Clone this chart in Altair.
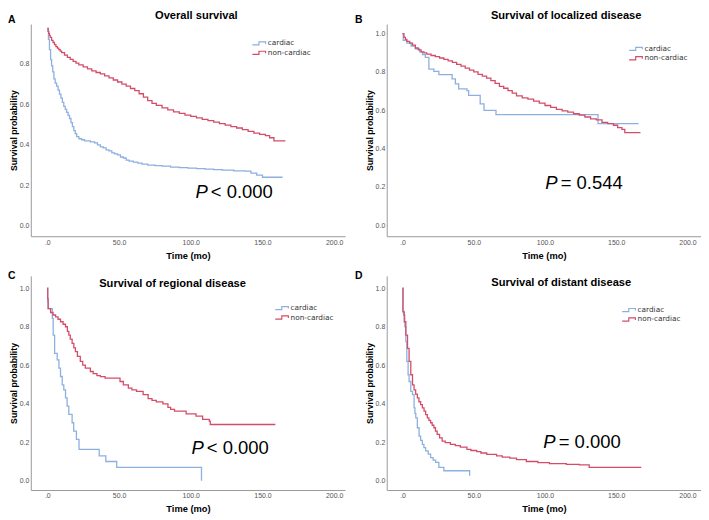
import altair as alt
import pandas as pd

BLUE = "#8cb0e0"
RED = "#d44d68"
FONT = "Liberation Sans"
GROUPS = ["cardiac", "non-cardiac"]

TITLES = ["Overall survival", "Survival of localized disease",
          "Survival of regional disease", "Survival of distant disease"]
LETTERS = ["A", "B", "C", "D"]
P_SYMBOL = "P"
P_REST = ["< 0.000", "= 0.544", "< 0.000", "= 0.000"]
X_TICKS = [0, 50, 100, 150, 200]
Y_TICKS_A = [0.0, 0.2, 0.4, 0.6, 0.8]
Y_TICKS = [0.0, 0.2, 0.4, 0.6, 0.8, 1.0]

# (time in months, survival probability) step points
A_CARDIAC = [(0, 0.975), (0.8, 0.92), (1.5, 0.87), (2.3, 0.82), (3.0, 0.79), (3.8, 0.76),
             (4.6, 0.725), (5.5, 0.705), (6.5, 0.69), (7.5, 0.67), (8.5, 0.65), (9.5, 0.63),
             (10.5, 0.61), (11.5, 0.59), (12.5, 0.575), (13.5, 0.56), (14.5, 0.545),
             (15.5, 0.53), (16.5, 0.51), (17.5, 0.49), (18.5, 0.47), (19.5, 0.455),
             (20.5, 0.44), (22, 0.43), (24, 0.425), (26, 0.42), (30, 0.415), (33, 0.41),
             (35, 0.40), (37, 0.39), (39, 0.385), (41, 0.375), (43, 0.37), (45, 0.36),
             (47, 0.355), (49, 0.35), (51, 0.34), (53, 0.335), (55, 0.325), (57, 0.32),
             (60, 0.315), (63, 0.31), (66, 0.305), (70, 0.30), (75, 0.297), (80, 0.295),
             (86, 0.29), (92, 0.288), (98, 0.285), (104, 0.283), (110, 0.28), (116, 0.278),
             (122, 0.275), (130, 0.272), (138, 0.27), (142, 0.26), (146, 0.25), (150, 0.24),
             (164, 0.24)]
A_NONCARDIAC = [(0, 0.975), (0.5, 0.96), (1, 0.95), (1.5, 0.94), (2, 0.93), (3, 0.915),
                (4, 0.905), (5, 0.895), (6, 0.885), (7, 0.877), (8, 0.87), (9, 0.862),
                (10, 0.855), (12, 0.843), (14, 0.832), (16, 0.822), (18, 0.812), (20, 0.803),
                (22, 0.795), (25, 0.785), (28, 0.775), (31, 0.765), (34, 0.757), (37, 0.75),
                (40, 0.74), (43, 0.73), (46, 0.72), (49, 0.71), (52, 0.70), (55, 0.69),
                (58, 0.678), (61, 0.668), (64, 0.652), (67, 0.635), (70, 0.618), (73, 0.605),
                (76, 0.595), (80, 0.582), (84, 0.572), (88, 0.563), (92, 0.555), (96, 0.547),
                (100, 0.54), (104, 0.533), (108, 0.526), (112, 0.519), (116, 0.512),
                (120, 0.505), (124, 0.497), (128, 0.49), (132, 0.483), (136, 0.475),
                (140, 0.466), (144, 0.458), (148, 0.452), (152, 0.445), (155, 0.435),
                (158, 0.42), (166, 0.42)]
B_CARDIAC = [(0, 1.0), (0.5, 0.965), (3, 0.95), (6, 0.935), (9, 0.92), (12, 0.905), (14, 0.89),
             (16, 0.876), (18.5, 0.815), (22, 0.803), (25.5, 0.786), (34.8, 0.764),
             (37.1, 0.738), (39.4, 0.712), (45.2, 0.703), (46.4, 0.678), (54.5, 0.634),
             (57.2, 0.60), (65.6, 0.578), (137.2, 0.531), (165.7, 0.531)]
B_NONCARDIAC = [(0, 1.0), (1, 0.98), (2, 0.97), (3, 0.96), (5, 0.95), (7, 0.94), (9, 0.925),
                (11, 0.915), (13, 0.905), (15, 0.9), (17, 0.893), (20, 0.886), (23, 0.88),
                (26, 0.873), (29, 0.866), (32, 0.858), (35, 0.85), (38, 0.84), (41, 0.83),
                (44, 0.82), (47, 0.81), (50, 0.80), (53, 0.788), (56, 0.778), (59, 0.768),
                (62, 0.755), (65, 0.74), (68, 0.725), (71, 0.715), (74, 0.703), (77, 0.69),
                (80, 0.675), (84, 0.665), (88, 0.658), (92, 0.648), (96, 0.637), (100, 0.625),
                (104, 0.615), (108, 0.605), (112, 0.597), (116, 0.59), (120, 0.582),
                (124, 0.575), (128, 0.565), (132, 0.555), (136, 0.55), (140, 0.537),
                (144, 0.53), (148, 0.522), (151, 0.51), (154, 0.50), (156, 0.484), (167, 0.484)]
C_CARDIAC = [(0, 1.0), (0.3, 0.928), (0.6, 0.893), (3.5, 0.842), (4.1, 0.756), (5.1, 0.661),
             (6.9, 0.627), (8.1, 0.584), (9.2, 0.541), (10.4, 0.498), (11.5, 0.472),
             (12.7, 0.43), (13.8, 0.387), (15, 0.344), (17.3, 0.301), (18.4, 0.258),
             (20.3, 0.215), (22.1, 0.163), (36.2, 0.129), (40.8, 0.10), (48.4, 0.069),
             (107.4, 0.069), (107.5, 0.0)]
C_NONCARDIAC = [(0, 1.0), (0.3, 0.945), (0.6, 0.893), (2.3, 0.873), (4, 0.86), (5.8, 0.85),
                (7.5, 0.838), (9.2, 0.825), (11, 0.812), (12.7, 0.799), (14, 0.775),
                (15, 0.756), (16, 0.735), (17.3, 0.713), (18.5, 0.69), (19.6, 0.67),
                (21, 0.645), (23, 0.619), (24.7, 0.60), (26.5, 0.584), (30, 0.567),
                (32, 0.556), (34.6, 0.546), (37, 0.54), (40.3, 0.533), (50.7, 0.515),
                (53, 0.498), (56.5, 0.481), (59, 0.472), (62.2, 0.464), (66.8, 0.447),
                (70.3, 0.426), (73, 0.417), (76, 0.409), (80.6, 0.399), (84.1, 0.381),
                (86, 0.37), (88.7, 0.361), (96.8, 0.347), (103.7, 0.335), (108.3, 0.318),
                (112.9, 0.309), (113.6, 0.292), (159, 0.292)]
D_CARDIAC = [(0, 1.0), (0.3, 0.88), (0.7, 0.859), (1.6, 0.799), (2.3, 0.722), (3, 0.619),
             (3.9, 0.55), (4.6, 0.515), (5.8, 0.464), (7, 0.447), (8.1, 0.378), (8.7, 0.35),
             (9.3, 0.326), (10.4, 0.275), (11.6, 0.232), (12.7, 0.21), (13.9, 0.189),
             (15, 0.172), (16.2, 0.155), (18, 0.138), (19.7, 0.12), (21.5, 0.107),
             (23.2, 0.095), (25.5, 0.069), (29, 0.052), (47, 0.052), (47.1, 0.026)]
D_NONCARDIAC = [(0, 1.0), (0.3, 0.876), (1.2, 0.825), (2.3, 0.756), (3.5, 0.687), (4.6, 0.619),
                (5.8, 0.55), (7, 0.498), (8.1, 0.472), (9.2, 0.45), (10.4, 0.43), (11.5, 0.41),
                (12.7, 0.395), (13.9, 0.378), (15.1, 0.361), (16.2, 0.343), (17.4, 0.326),
                (18.5, 0.313), (19.7, 0.301), (20.8, 0.288), (22, 0.275), (23.1, 0.258),
                (24.3, 0.241), (26, 0.223), (27.8, 0.206), (30, 0.198), (33.6, 0.189),
                (37, 0.182), (40.6, 0.175), (45.2, 0.163), (48, 0.157), (52.1, 0.151),
                (55, 0.144), (59.1, 0.137), (66, 0.129), (70, 0.123), (75.3, 0.117),
                (80, 0.11), (86.9, 0.10), (95, 0.094), (103.1, 0.089), (115, 0.085),
                (124, 0.082), (131, 0.069), (167.6, 0.069)]

W = 317
LEGEND_SYMBOL = "M-2,0.45L-0.1,0.45L-0.1,-0.45L1.8,-0.45L1.8,0.15"


def km_frame(cardiac, noncardiac):
    rows = [{"t": t, "s": s, "group": GROUPS[0]} for t, s in cardiac]
    rows += [{"t": t, "s": s, "group": GROUPS[1]} for t, s in noncardiac]
    return pd.DataFrame(rows)


def label_chart(text, x, y, size, weight="bold", align="left", baseline="middle",
                style="normal", font=FONT, color="black"):
    return alt.Chart(pd.DataFrame({"txt": [text]})).mark_text(
        align=align, baseline=baseline, fontSize=size, fontWeight=weight,
        fontStyle=style, font=font, color=color,
    ).encode(text="txt:N", x=alt.value(x), y=alt.value(y))


def panel(idx, cardiac, noncardiac, xdom, ydom, yticks, height, title_xy, letter_xy, p_xy, leg_xy):
    df = km_frame(cardiac, noncardiac)
    lines = alt.Chart(df).mark_line(interpolate="step-after", strokeWidth=1.3).encode(
        x=alt.X("t:Q", scale=alt.Scale(domain=xdom, nice=False, zero=False),
                axis=alt.Axis(values=X_TICKS, title="Time (mo)",
                              labelExpr="datum.value == 0 ? '.0' : format(datum.value, '.1f')")),
        y=alt.Y("s:Q", scale=alt.Scale(domain=ydom, nice=False, zero=False),
                axis=alt.Axis(values=yticks, format=".1f", title="Survival probability")),
        color=alt.Color("group:N", scale=alt.Scale(domain=GROUPS, range=[BLUE, RED]),
                        legend=alt.Legend(title=None, orient="none", legendX=leg_xy[0],
                                          legendY=leg_xy[1], symbolType=LEGEND_SYMBOL,
                                          symbolSize=49, symbolStrokeWidth=1.2,
                                          labelFont="DejaVu Sans", labelFontSize=7.4,
                                          labelColor="#333", labelOffset=4, rowPadding=0.5,
                                          padding=0)),
    )
    t = label_chart(TITLES[idx], title_xy[0], title_xy[1], 11.2, align="center")
    letter = label_chart(LETTERS[idx], letter_xy[0], letter_xy[1], 10.5)
    p1 = label_chart(P_SYMBOL, p_xy[0], p_xy[1], 18.6, weight="normal", baseline="alphabetic",
                     style="italic")
    p2 = label_chart(P_REST[idx], p_xy[0] + 15.5, p_xy[1], 18.6, weight="normal",
                     baseline="alphabetic")
    return alt.layer(lines, t, letter, p1, p2).properties(width=W, height=height)


XDOM_L = [-11.5, 207.6]
XDOM_R = [-11.1, 209.5]

pA = panel(0, A_CARDIAC, A_NONCARDIAC, XDOM_L, [-0.051, 0.996], Y_TICKS_A, 214,
           (167, -8), (-23, -4), (166, 175), (226, 15))
pB = panel(1, B_CARDIAC, B_NONCARDIAC, XDOM_R, [-0.057, 1.050], Y_TICKS, 214,
           (181, -8), (-32, -4), (160, 166), (247, 20.5))
pC = panel(2, C_CARDIAC, C_NONCARDIAC, XDOM_L, [-0.048, 1.063], Y_TICKS, 216,
           (143, 8), (-23, 0), (162, 180), (249, 28))
pD = panel(3, D_CARDIAC, D_NONCARDIAC, XDOM_R, [-0.048, 1.063], Y_TICKS, 216,
           (176, 7), (-32, 0), (158, 174), (240, 30))

chart = alt.concat(
    pA, pB, pC, pD, columns=2, spacing={"row": 40, "column": 42}, bounds="flush", align="each"
).resolve_scale(color="independent").resolve_legend(color="independent").properties(
    padding=0
).configure_view(stroke=None).configure_axis(
    grid=False, ticks=False, domainColor="#9a9a9a", domainWidth=1,
    labelFont=FONT, labelFontSize=7, labelColor="#555", labelPadding=2, labelFlush=False,
    titleFont=FONT, titleColor="black", titleFontWeight="bold",
).configure_axisX(titleFontSize=9.4, titlePadding=6).configure_axisY(
    titleFontSize=8.8, titlePadding=1
)

chart.save("out.html", embed_options={"renderer": "svg", "actions": False})
